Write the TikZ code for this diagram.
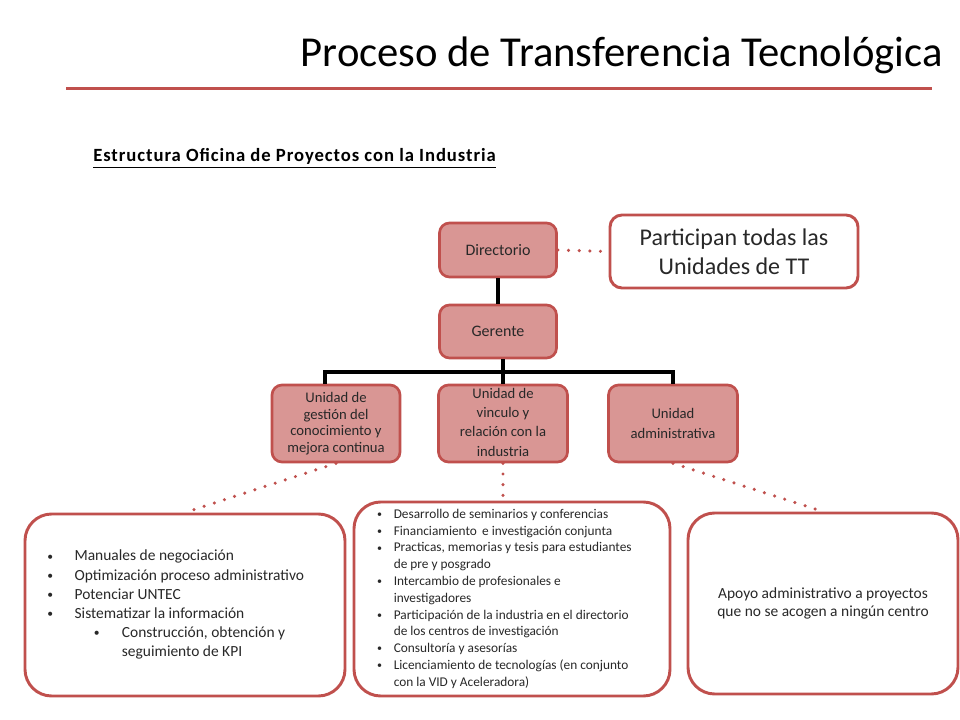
\documentclass[tikz,border=0pt]{standalone}
\usepackage{fontspec}
\setmainfont{Carlito}
\definecolor{accred}{RGB}{192,80,77}
\definecolor{boxfill}{RGB}{217,150,148}
\definecolor{txtgray}{RGB}{40,40,40}
\newdimen\pxu
\pxu=0.75pt
\newcommand{\smbul}[1]{\makebox[#1][l]{\raisebox{0.6pt}{\scalebox{0.75}{\textbullet}}}}
\tikzset{
  unitbox/.style={draw=accred, fill=boxfill, line width=2pt, rounded corners=7.5pt,
    text=txtgray, align=center, inner sep=0pt},
  notebox/.style={draw=accred, fill=white, line width=2.2pt, rounded corners=20pt,
    inner sep=0pt, text=txtgray},
  treeline/.style={line width=2.3pt, black},
  dotline/.style={accred, line width=2.6pt, line cap=round, dash pattern=on 0pt off 8pt},
}
\begin{document}
\begin{tikzpicture}[x=0.75pt,y=-0.75pt]
\useasboundingbox (0,0) rectangle (960,720);
\fill[white] (0,0) rectangle (960,720);

% title
\node[anchor=base east, inner sep=0pt] (title) at (943,67)
  {\fontsize{32}{38}\selectfont Proceso de Transferencia Tecnológica};
\coordinate (rl) at (66,88.5);
\coordinate (rr) at (932,88.5);
\draw[accred, line width=2.4pt] (rl) -- (rr);

% subtitle
\node[anchor=base west, inner sep=0pt] (subtitle) at (93,162)
  {\fontsize{14}{16}\selectfont\addfontfeature{LetterSpace=5}\bfseries\underline{Estructura Oficina de Proyectos con la Industria}};

% org chart
\node[unitbox, minimum width=117\pxu, minimum height=54\pxu,
  font=\fontsize{12}{14}\selectfont] (dir) at (498,250) {Directorio};
\node[unitbox, minimum width=117\pxu, minimum height=53\pxu,
  font=\fontsize{12}{14}\selectfont] (ger) at (498,331.5) {Gerente};

\node[unitbox, minimum width=128\pxu, minimum height=77\pxu,
  font=\fontsize{11}{12.5}\selectfont] (c1) at (336,423.5)
  {Unidad de\\gestión del\\conocimiento y\\mejora continua};
\node[unitbox, minimum width=129\pxu, minimum height=77\pxu,
  font=\fontsize{11}{14.4}\selectfont] (c2) at (503,423.5)
  {\raisebox{-3pt}{\begin{tabular}{@{}c@{}}Unidad de\\vinculo y\\relación con la\\industria\end{tabular}}};
\node[unitbox, minimum width=129\pxu, minimum height=77\pxu,
  font=\fontsize{11}{14.4}\selectfont] (c3) at (673,423.5)
  {Unidad\\administrativa};

\node[notebox, rounded corners=9pt, minimum width=248\pxu, minimum height=73\pxu,
  align=center, font=\fontsize{18}{21.5}\selectfont] (part) at (734,251.5)
  {Participan todas las\\Unidades de TT};

% tree connectors
\coordinate (bar) at (500,372);
\draw[treeline] (dir.south) -- (ger.north);
\draw[treeline] ([xshift=5\pxu]ger.south) -- (c2.north);
\draw[treeline] ([xshift=-11\pxu]c1.north) -- ([xshift=-11\pxu]c1.north |- bar)
  -- (c3.north |- bar) -- (c3.north);

% bottom boxes
\node[notebox, minimum width=320\pxu, minimum height=182\pxu,
  font=\fontsize{11.6}{14.4}\selectfont] (bl) at (185,605)
  {\hspace*{-14pt}\raisebox{-3pt}{\begin{tabular}{@{}l@{}}
   \smbul{20.5pt}Manuales de negociación\\
   \smbul{20.5pt}Optimización proceso administrativo\\
   \smbul{20.5pt}Potenciar UNTEC\\
   \smbul{20.5pt}Sistematizar la información\\
   \hspace*{35pt}\smbul{21pt}Construcción, obtención y\\
   \hspace*{56pt}seguimiento de KPI
   \end{tabular}}};

\node[notebox, minimum width=316\pxu, minimum height=194\pxu,
  font=\fontsize{10}{12.6}\selectfont] (bm) at (512,599)
  {\hspace*{-11.5pt}\raisebox{-2pt}{\begin{tabular}{@{}l@{}}
   \smbul{12.5pt}Desarrollo de seminarios y conferencias\\
   \smbul{12.5pt}Financiamiento\, e investigación conjunta\\
   \smbul{12.5pt}Practicas, memorias y tesis para estudiantes\\
   \hspace*{12.5pt}de pre y posgrado\\
   \smbul{12.5pt}Intercambio de profesionales e\\
   \hspace*{12.5pt}investigadores\\
   \smbul{12.5pt}Participación de la industria en el directorio\\
   \hspace*{12.5pt}de los centros de investigación\\
   \smbul{12.5pt}Consultoría y asesorías\\
   \smbul{12.5pt}Licenciamiento de tecnologías (en conjunto\\
   \hspace*{12.5pt}con la VID y Aceleradora)
   \end{tabular}}};

\node[notebox, minimum width=270\pxu, minimum height=181\pxu,
  font=\fontsize{11.6}{13.5}\selectfont] (br) at (823,603.5)
  {\raisebox{-4pt}{\begin{tabular}{@{}c@{}}Apoyo administrativo a proyectos\\que no se acogen a ningún centro\end{tabular}}};

% dotted connectors
\draw[dotline] (dir.east) -- (part.west);
\draw[dotline] (c1.south) -- (bl.north);
\draw[dotline] (c2.south) -- (c2.south |- bm.north);
\draw[dotline] (c3.south) -- (br.north);
\end{tikzpicture}
\end{document}
